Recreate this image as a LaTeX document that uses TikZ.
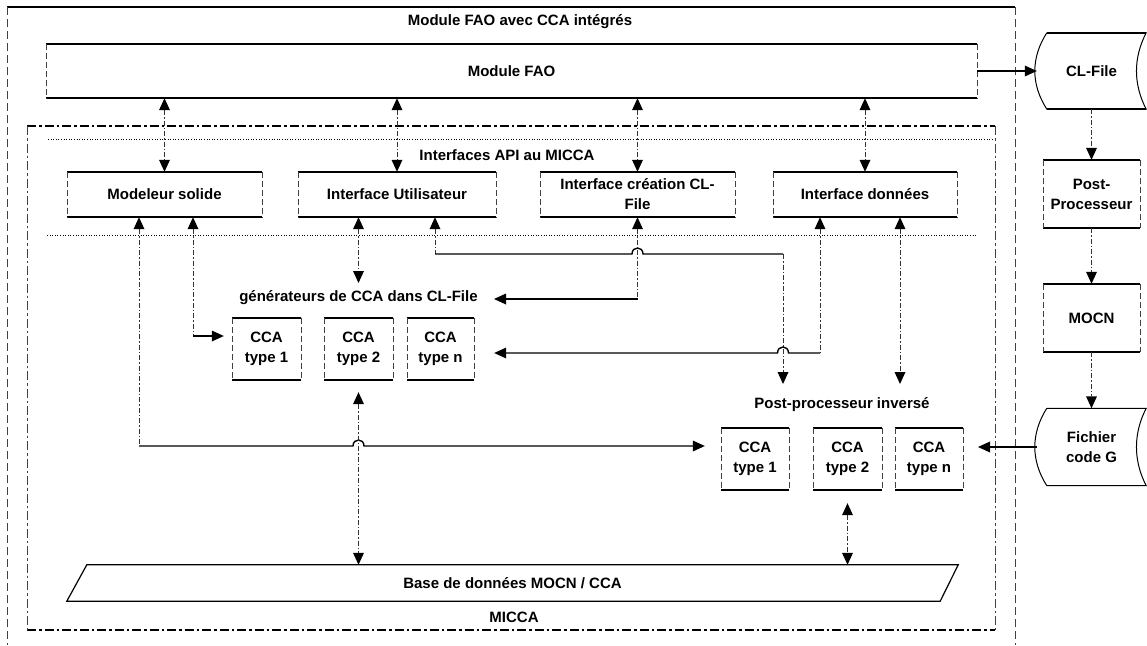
\documentclass[tikz,border=0pt]{standalone}
\usepackage{fontspec}
\setmainfont{Liberation Sans}
\usetikzlibrary{arrows.meta,calc}
\begin{document}
\begin{tikzpicture}[x=1pt,y=-1pt,>={Triangle[length=12pt,width=11pt,line width=0pt,color=black]},
 txt/.style={font=\bfseries\fontsize{15}{20}\selectfont, inner sep=0pt, align=center},
 bx/.style 2 args={txt, minimum width=#1pt, minimum height=#2pt},
 edgeh/.style={line width=1.5pt},
 edgev/.style={line width=0.6pt, black!75, dash pattern=on 6pt off 3pt},
 hl/.style={line width=1.4pt},
 vl/.style={line width=0.7pt, black!80, dash pattern=on 5pt off 2pt on 1.5pt off 2pt},
 miccah/.style={line width=1.2pt, dash pattern=on 9pt off 3pt on 2.5pt off 3pt},
 miccav/.style={line width=0.7pt, black!75, dash pattern=on 9pt off 3pt on 2.5pt off 3pt},
 dots/.style={line width=0.9pt, dash pattern=on 1pt off 1.6pt},
 framev/.style={line width=0.7pt, black!75, dash pattern=on 8pt off 4pt},
]
\useasboundingbox (0,0) rectangle (1147,645);

% frames
\draw[line width=1.2pt] (7,7) -- (1015,7);
\draw[framev] (7,7) -- (7,645);
\draw[framev] (1015,7) -- (1015,645);
\draw[miccah] (27,126) -- (995,126);
\draw[miccah] (27,630) -- (995,630);
\draw[miccav] (27,126) -- (27,630);
\draw[miccav] (995,126) -- (995,630);
\draw[dots] (48,139) -- (992,139);
\draw[dots] (47,235) -- (977,235);

% labels
\node[txt] (title) at (520,22) {Module FAO avec CCA intégrés};
\node[txt] (api) at (507,155) {Interfaces API au MICCA};
\node[txt] (genlabel) at (358.5,298) {générateurs de CCA dans CL-File};
\node[txt] (pplabel) at (842,405) {Post-processeur inversé};
\node[txt] (miccalabel) at (514,617) {MICCA};

% boxes
\node[bx={931}{54}] (fao) at (511.5,71) {Module FAO};
\node[bx={195}{45}] (modsol) at (164.5,194.5) {Modeleur solide};
\node[bx={198}{45}] (intutil) at (397,194.5) {Interface Utilisateur};
\node[bx={195}{45}] (intcrea) at (637.5,194.5) {Interface création CL-\\File};
\node[bx={184}{45}] (intdon) at (865,194.5) {Interface données};
\node[bx={69}{62}] (g1) at (266.5,349) {CCA\\type 1};
\node[bx={69}{62}] (g2) at (358.5,349) {CCA\\type 2};
\node[bx={67}{62}] (gn) at (440.5,349) {CCA\\type n};
\node[bx={68}{62}] (p1) at (755,459) {CCA\\type 1};
\node[bx={69}{62}] (p2) at (847.5,459) {CCA\\type 2};
\node[bx={68}{62}] (pn) at (929,459) {CCA\\type n};
\node[bx={97}{68}] (postproc) at (1091.5,194) {Post-\\Processeur};
\node[bx={97}{68}] (mocn) at (1091.5,318) {MOCN};
\node[bx={109}{76}] (clfile) at (1091.5,71) {CL-File};
\node[bx={109}{77}] (fichier) at (1091.5,447) {Fichier\\code G};
\node[bx={891}{36}] (base) at (512.5,583) {Base de données MOCN / CCA};

\foreach \n in {fao,modsol,intutil,intcrea,intdon,g1,g2,gn,p1,p2,pn,postproc,mocn}{
  \draw[edgeh] (\n.north west) -- (\n.north east);
  \draw[edgeh] (\n.south west) -- (\n.south east);
  \draw[edgev] (\n.north west) -- (\n.south west);
  \draw[edgev] (\n.north east) -- (\n.south east);
}

% stored data shapes
\foreach \n in {clfile,fichier}{
  \draw[line width=1pt]
    ($(\n.north west)+(10,0)$) -- (\n.north east)
    .. controls ($(\n.north east)+(-13,25)$) and ($(\n.south east)+(-13,-25)$) .. (\n.south east)
    -- ($(\n.south west)+(10,0)$)
    .. controls ($(\n.south west)+(-6,-25)$) and ($(\n.north west)+(-6,25)$) .. ($(\n.north west)+(10,0)$);
  \draw[edgeh] ($(\n.north west)+(10,0)$) -- (\n.north east);
  \draw[edgeh] ($(\n.south west)+(10,0)$) -- (\n.south east);
}

% database parallelogram
\draw[line width=1.2pt] (base.south west) -- ($(base.south east)+(-18,0)$) -- (base.north east) -- ($(base.north west)+(20,0)$) -- cycle;

% Module FAO <-> interface boxes
\foreach \n in {modsol,intutil,intcrea,intdon}
  \draw[vl,<->] (\n.north |- fao.south) -- (\n.north);

% right column
\draw[hl,->] (fao.east) -- (clfile.west);
\draw[vl,->] (clfile.south) -- (postproc.north);
\draw[vl,->] (postproc.south) -- (mocn.north);
\draw[vl,->] (mocn.south) -- (fichier.north);
\coordinate (f9) at (978,447);
\draw[hl,->] (fichier.west |- f9) -- (f9);

% Modeleur <-> post-proc CCA type 1
\coordinate (a10) at ([xshift=-25.5pt]modsol.south);
\coordinate (b10) at (139,446);
\draw[vl,<-] (a10) -- (b10);
\draw[hl,->] (b10) -- (353,446) .. controls (353,438) and (364,438) .. (364,446) -- ($(p1.west)+(-16,-13)$);

% Modeleur <-> generator CCA type 1
\coordinate (a11) at ([xshift=28.5pt]modsol.south);
\coordinate (b11) at (193,336);
\draw[vl,<-] (a11) -- (b11);
\draw[hl,->] (b11) -- ($(g1.west |- b11)+(-8,0)$);

% Interface Utilisateur <-> generateurs
\coordinate (a12) at ([xshift=-38.5pt]intutil.south);
\coordinate (t12) at (358.5,283);
\draw[vl,<->] (a12) -- (t12);

% Interface Utilisateur <-> post-processeur inverse
\coordinate (a13) at ([xshift=38pt]intutil.south);
\coordinate (b13) at (435,254);
\coordinate (c13) at (783,254);
\coordinate (d13) at (783,384);
\draw[vl,<-] (a13) -- (b13);
\draw[hl] (b13) -- (632,254) .. controls (632,246) and (643,246) .. (643,254) -- (c13);
\draw[vl,->] (c13) -- (d13);

% Interface creation <-> generateurs
\coordinate (b14) at (637.5,299);
\coordinate (t14) at (494,299);
\draw[vl,<-] (intcrea.south) -- (b14);
\draw[hl,->] (b14) -- (t14);

% Interface donnees <-> generator CCA type n
\coordinate (a15) at ([xshift=-45pt]intdon.south);
\coordinate (b15) at (820,353);
\draw[vl,<-] (a15) -- (b15);
\draw[hl,->] (b15) -- (788.5,353) .. controls (788.5,345) and (777.5,345) .. (777.5,353) -- ($(gn.east |- b15)+(20,0)$);

% Interface donnees <-> post-processeur inverse
\coordinate (a16) at ([xshift=35pt]intdon.south);
\coordinate (t16) at (900,384);
\draw[vl,<->] (a16) -- (t16);

% CCA type 2 <-> base
\draw[vl,<->] ([yshift=-12pt]g2.south) -- (g2.south |- base.north);
\draw[vl,<->] ([yshift=-13pt]p2.south) -- (p2.south |- base.north);
\end{tikzpicture}
\end{document}
